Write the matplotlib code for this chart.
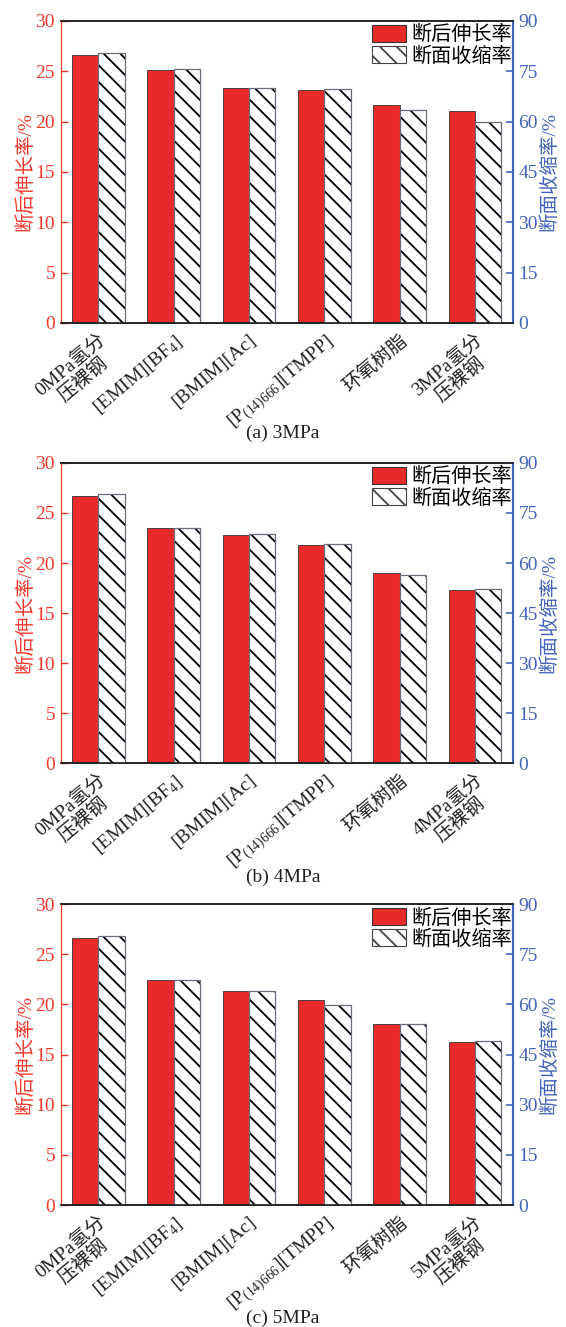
import matplotlib
matplotlib.use("Agg")
import matplotlib.pyplot as plt
import numpy as np
from matplotlib.patches import Patch

plt.rcParams['font.family'] = ['Liberation Serif', 'Noto Sans CJK SC']
plt.rcParams['mathtext.fontset'] = 'custom'
plt.rcParams['mathtext.rm'] = 'Liberation Serif'
plt.rcParams['mathtext.default'] = 'rm'
plt.rcParams['hatch.linewidth'] = 1.3

# categories (the last one depends on the pressure)
categories = ['0MPa氢分\n压裸钢', '[EMIM][BF$_{4}$]', '[BMIM][Ac]',
              '[P$_{(14)666}$][TMPP]', '环氧树脂']
pressures = ['3MPa', '4MPa', '5MPa']
captions = ['(a) 3MPa', '(b) 4MPa', '(c) 5MPa']

# elongation after fracture (%), left axis
elong_3 = [26.6, 25.1, 23.3, 23.1, 21.7, 21.1]
elong_4 = [26.7, 23.5, 22.8, 21.8, 19.0, 17.3]
elong_5 = [26.6, 22.4, 21.3, 20.4, 18.0, 16.3]
# reduction of area (%), right axis
ra_3 = [80.4, 75.8, 70.1, 69.7, 63.6, 59.8]
ra_4 = [80.6, 70.6, 68.7, 65.8, 56.4, 52.1]
ra_5 = [80.5, 67.4, 64.1, 59.7, 54.2, 49.2]

RED = '#E92A2A'
RED_TXT = '#F2392E'
BLUE = '#4463BB'
HATCH = '\\\\'

fig = plt.figure(figsize=(5.66, 13.27), dpi=100)
boxes = [[0.107, 0.7566, 0.799, 0.2276],
         [0.107, 0.4250, 0.799, 0.2261],
         [0.107, 0.0919, 0.799, 0.2268]]
cap_y = [1 - 433 / 1327, 1 - 877 / 1327, 1 - 1318 / 1327]

x = np.arange(6)
w = 0.35
for box, p, cap, cy, el, ra in zip(boxes, pressures, captions, cap_y,
                                   [elong_3, elong_4, elong_5], [ra_3, ra_4, ra_5]):
    ax = fig.add_axes(box)
    ax2 = ax.twinx()
    ax.bar(x - w / 2, el, w, color=RED, edgecolor='#333333', linewidth=0.6)
    ax2.bar(x + w / 2, ra, w, color='white', edgecolor='black', linewidth=0,
            hatch=HATCH)
    ax2.bar(x + w / 2, ra, w, fill=False, edgecolor='#6a6a7a', linewidth=0.9)

    ax.set_xlim(-0.5, 5.5)
    ax.set_ylim(0, 30)
    ax2.set_ylim(0, 90)
    ax.set_yticks(range(0, 31, 5))
    ax2.set_yticks(range(0, 91, 15))
    ax.set_xticks(x)
    labels = categories + [p + '氢分\n压裸钢']
    ax.set_xticklabels(labels, rotation=40, ha='right', rotation_mode='anchor',
                       fontsize=14, color='#222222', multialignment='center',
                       linespacing=1.0)
    ax.tick_params(axis='x', length=0, pad=6)
    ax.tick_params(axis='y', direction='in', length=5, width=1, colors=RED_TXT,
                   labelsize=14, pad=4)
    ax2.tick_params(axis='y', direction='in', length=5, width=1.2, colors=BLUE,
                    labelsize=14, pad=4)

    for a in (ax, ax2):
        a.spines['left'].set_color(RED_TXT)
        a.spines['right'].set_color(BLUE)
        a.spines['right'].set_linewidth(1.5)
        a.spines['top'].set_color('#222222')
        a.spines['bottom'].set_color('#222222')
        a.spines['top'].set_linewidth(1.2)
        a.spines['bottom'].set_linewidth(1.2)

    ax.set_ylabel('断后伸长率/%', color=RED_TXT, fontsize=14, labelpad=1)
    ax2.set_ylabel('断面收缩率/%', color=BLUE, fontsize=14, labelpad=1)

    handles = [Patch(facecolor=RED, edgecolor='#333333', linewidth=0.8),
               Patch(facecolor='white', edgecolor='#444444', hatch=HATCH, linewidth=0.8)]
    ax2.legend(handles, ['断后伸长率', '断面收缩率'], loc='upper right',
               bbox_to_anchor=(1.008, 1.0),
               frameon=False, fontsize=14.5, handlelength=1.65, handleheight=0.9,
               handletextpad=0.3, labelspacing=0.05, borderaxespad=0.0,
               borderpad=0.2)

    fig.text(0.5, cy, cap, ha='center', va='center', fontsize=14, color='#222222')

fig.savefig('out.png', dpi=100)
